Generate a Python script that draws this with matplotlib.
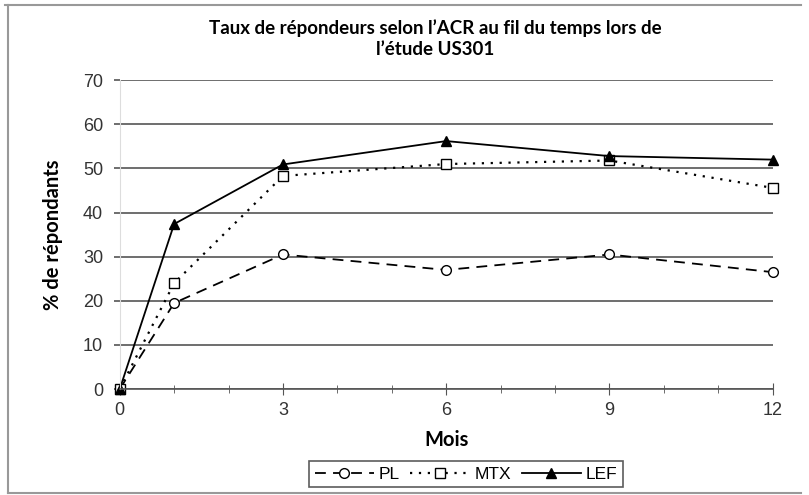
import matplotlib
matplotlib.use("Agg")
import matplotlib.pyplot as plt
from matplotlib.lines import Line2D

# mois de suivi
mois = [0, 1, 3, 6, 9, 12]
pl = [0, 19.5, 30.5, 27, 30.5, 26.5]
mtx = [0, 24, 48.3, 51, 51.8, 45.6]
lef = [0, 37.4, 50.9, 56.2, 52.8, 52.0]

titre = "Taux de répondeurs selon l\u2019ACR au fil du temps lors de\nl\u2019étude US301"

fig = plt.figure(figsize=(8.09, 4.95), dpi=100)
ax = fig.add_axes([0.148, 0.214, 0.807, 0.624])

ax.plot(mois, pl, color="black", lw=1.3, ls=(0, (6, 4)), marker="o",
        ms=7, mfc="white", mec="black", mew=1.0, clip_on=False, label="PL")
ax.plot(mois, mtx, color="black", lw=1.6, ls=(0, (1, 3)), marker="s",
        ms=7, mfc="white", mec="black", mew=1.0, clip_on=False, label="MTX")
ax.plot(mois, lef, color="black", lw=1.3, ls="-", marker="^",
        ms=7, mfc="black", mec="black", clip_on=False, label="LEF")

ax.set_xlim(0, 12)
ax.set_ylim(0, 70)
ax.set_xticks([0, 3, 6, 9, 12])
ax.set_xticks(range(13), minor=True)
ax.set_yticks(range(0, 71, 10))
ax.yaxis.grid(True, color="#555555", lw=1.2)
ax.set_axisbelow(True)

for s in ["top", "right"]:
    ax.spines[s].set_visible(False)
ax.spines["left"].set_color("#dddddd")
ax.spines["bottom"].set_color("#555555")
ax.spines["bottom"].set_linewidth(1.2)
ax.tick_params(axis="y", length=4, color="#555555", width=1.2, pad=8,
               labelsize=13, labelcolor="#333333")
ax.tick_params(axis="x", which="both", direction="inout", length=8,
               color="#555555", labelsize=13, labelcolor="#333333", pad=5)
ax.tick_params(axis="x", which="minor", length=6)
for lbl in ax.get_xticklabels() + ax.get_yticklabels():
    lbl.set_fontfamily("Liberation Sans")

ax.set_xlabel("Mois", fontsize=14.5, fontweight="bold", family="Lato", labelpad=8)
ax.set_ylabel("% de répondants", fontsize=14.5, fontweight="bold", family="Lato",
              labelpad=14)
fig.text(0.538, 0.922, titre, ha="center", va="center", fontsize=13.5,
         fontweight="bold", family="Lato", linespacing=1.35)

leg = fig.legend(loc="center", bbox_to_anchor=(0.576, 0.042), ncol=3,
                 frameon=True, fancybox=False, edgecolor="#333333",
                 handlelength=3.4, handletextpad=0.3, columnspacing=0.6,
                 borderpad=0.3, prop={"family": "Liberation Sans", "size": 12.5})
leg.get_frame().set_linewidth(1.2)

# cadre gris autour de la figure
cadre = dict(color="#999999", lw=1.5, transform=fig.transFigure)
fig.add_artist(Line2D([0.010, 0.010], [0.004, 0.99], **cadre))
fig.add_artist(Line2D([0.006, 0.99], [0.99, 0.99], **cadre))
fig.add_artist(Line2D([0.010, 0.99], [0.004, 0.004], **cadre))

fig.savefig("out.png", dpi=100, facecolor="white")
